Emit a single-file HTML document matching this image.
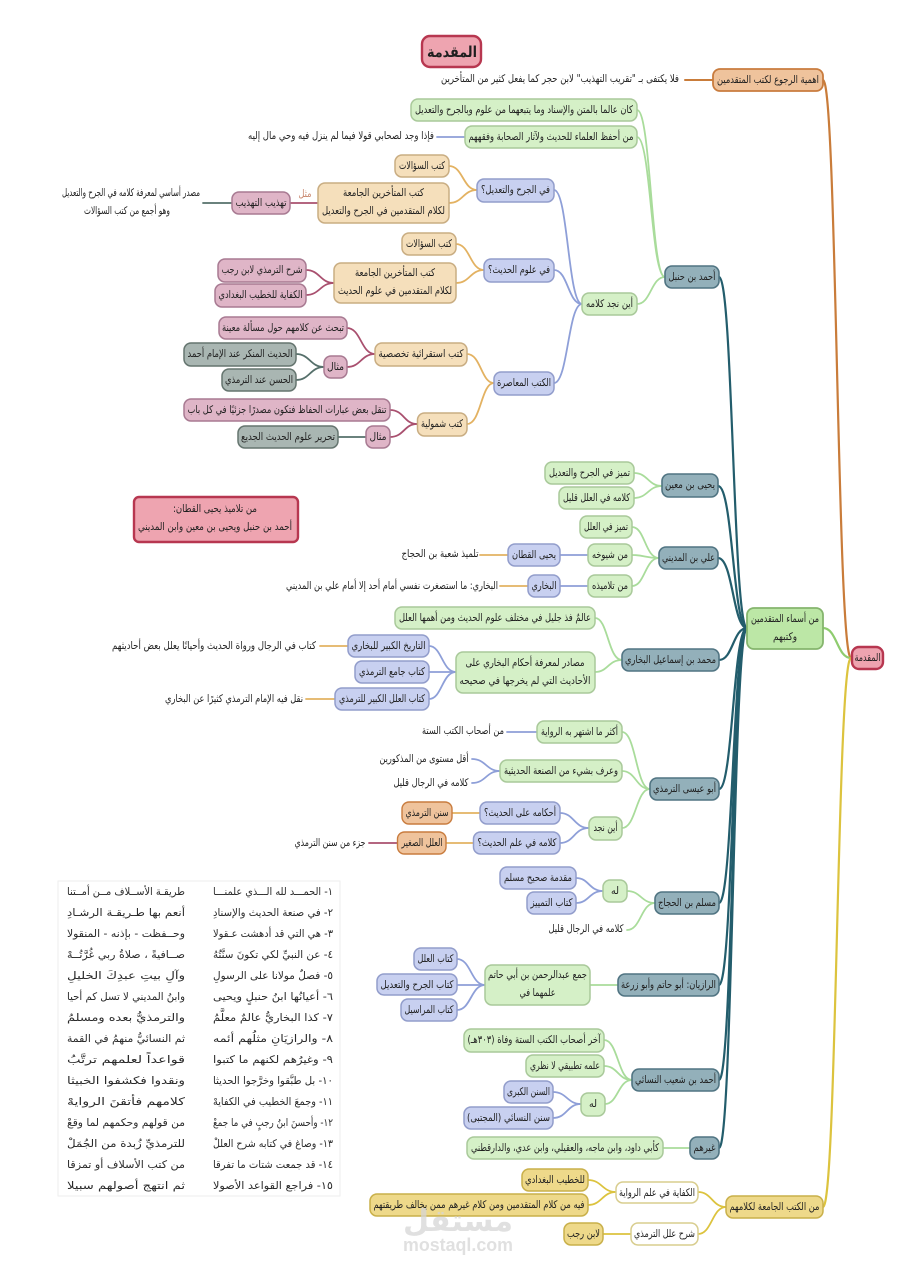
<!DOCTYPE html>
<html lang="ar"><head><meta charset="utf-8"><title>المقدمة</title>
<style>
html,body{margin:0;padding:0;background:#fff}
svg{display:block}
text{font-family:"DejaVu Sans","Liberation Sans",sans-serif;font-size:10.5px;fill:#1f1f1f;text-anchor:middle;direction:rtl}
path{fill:none;stroke-linecap:round}
rect{stroke-width:1.5}
.p text{font-size:10.5px;fill:#2a2a2a}
.g rect{fill:#d5f0c7;stroke:#a9c99a}.b rect{fill:#c8d0f0;stroke:#929dcb}.o rect{fill:#f5dfbb;stroke:#c9ad82}
.d rect{fill:#efc39c;stroke:#c97c3e;stroke-width:1.8}.m rect{fill:#dfb5c7;stroke:#a87a92}.y rect{fill:#a9b6b2;stroke:#65756f}
.t rect{fill:#93b0ba;stroke:#507482;stroke-width:1.6}.l rect{fill:#bce7a6;stroke:#85b56d;stroke-width:1.8}
.e rect{fill:#eed98a;stroke:#c9b04a;stroke-width:1.5}.w rect{fill:#fff;stroke:#d8cd8e}.r rect{fill:#eea4b0;stroke:#b73750;stroke-width:2.4}
</style></head><body>
<svg xmlns="http://www.w3.org/2000/svg" width="917" height="1280" viewBox="0 0 917 1280">
<rect width="917" height="1280" fill="#fff" style="stroke:none"/>

<!-- root connectors -->
<g stroke-width="2.2">
<path stroke="#c97c3a" d="M823 80C837 80 837 658 851 658"/>
<path stroke="#8fcc6f" d="M823 628C837 628 837 658 851 658"/>
<path stroke="#dcc33e" d="M823 1207C837 1207 837 658 851 658"/>
</g>
<path stroke="#c97c3a" stroke-width="2" d="M685 80H713"/>
<!-- teal -->
<g stroke="#235d6c" stroke-width="2.2">
<path d="M719 277C733 277 733 628 747 628"/>
<path d="M718 486C733 486 733 628 747 628"/>
<path d="M718 558C733 558 733 628 747 628"/>
<path d="M719 660C733 660 733 628 747 628"/>
<path d="M719 789C733 789 733 628 747 628"/>
<path d="M719 903C733 903 733 628 747 628"/>
<path d="M719 985C733 985 733 628 747 628"/>
<path d="M719 1080C733 1080 733 628 747 628"/>
<path d="M719 1148C733 1148 733 628 747 628"/>
</g>
<!-- light green -->
<g stroke="#a9dc9b" stroke-width="1.8">
<path d="M637 110C651 110 651 277 665 277"/>
<path d="M637 137C651 137 651 277 665 277"/>
<path d="M637 304C651 304 651 277 665 277"/>
<path d="M634 473C648 473 648 486 662 486"/>
<path d="M634 498C648 498 648 486 662 486"/>
<path d="M632 527C645 527 645 558 659 558"/>
<path d="M632 555C645 555 645 558 659 558"/>
<path d="M632 586C645 586 645 558 659 558"/>
<path d="M595 618C608 618 608 660 622 660"/>
<path d="M595 672C608 672 608 660 622 660"/>
<path d="M622 732C636 732 636 789 650 789"/>
<path d="M622 771C636 771 636 789 650 789"/>
<path d="M622 828C636 828 636 789 650 789"/>
<path d="M627 891C641 891 641 903 655 903"/>
<path d="M627 930C641 930 641 903 655 903"/>
<path d="M590 985H618"/>
<path d="M604 1040C618 1040 618 1080 632 1080"/>
<path d="M604 1066C618 1066 618 1080 632 1080"/>
<path d="M605 1104C618 1104 618 1080 632 1080"/>
<path d="M663 1148H690"/>
</g>
<!-- blue -->
<g stroke="#8e9fd8" stroke-width="1.8">
<path d="M437 137H465"/>
<path d="M554 190C568 190 568 304 582 304"/>
<path d="M554 270C568 270 568 304 582 304"/>
<path d="M554 383C568 383 568 304 582 304"/>
<path d="M560 555H588"/>
<path d="M560 586H588"/>
<path d="M429 646C442 646 442 672 456 672"/>
<path d="M429 672H456"/>
<path d="M429 699C442 699 442 672 456 672"/>
<path d="M507 732H537"/>
<path d="M472 759C486 759 486 771 500 771"/>
<path d="M472 783C486 783 486 771 500 771"/>
<path d="M560 813C574 813 574 828 589 828"/>
<path d="M560 843C574 843 574 828 589 828"/>
<path d="M576 878C589 878 589 891 603 891"/>
<path d="M576 903C589 903 589 891 603 891"/>
<path d="M457 959C471 959 471 985 485 985"/>
<path d="M457 985H485"/>
<path d="M457 1010C471 1010 471 985 485 985"/>
<path d="M553 1092C567 1092 567 1104 581 1104"/>
<path d="M553 1118C567 1118 567 1104 581 1104"/>
</g>
<!-- orange -->
<g stroke="#e3b262" stroke-width="1.8">
<path d="M449 166C463 166 463 190 477 190"/>
<path d="M449 203C463 203 463 190 477 190"/>
<path d="M456 244C470 244 470 270 484 270"/>
<path d="M456 283C470 283 470 270 484 270"/>
<path d="M467 354C481 354 481 383 494 383"/>
<path d="M467 424C481 424 481 383 494 383"/>
<path d="M480 555H508"/>
<path d="M500 586H528"/>
<path d="M320 646H348"/>
<path d="M306 699H335"/>
<path d="M452 813H480"/>
<path d="M446 843H473"/>
</g>
<!-- mauve -->
<g stroke="#a9506f" stroke-width="1.8">
<path d="M290 203H318"/>
<path d="M306 270C320 270 320 283 334 283"/>
<path d="M306 295C320 295 320 283 334 283"/>
<path d="M347 328C361 328 361 354 375 354"/>
<path d="M347 367C361 367 361 354 375 354"/>
<path d="M390 410C404 410 404 424 417 424"/>
<path d="M390 437C404 437 404 424 417 424"/>
<path d="M369 843H397"/>
</g>
<!-- grey -->
<g stroke="#56706b" stroke-width="1.8">
<path d="M203 203H232"/>
<path d="M296 354C310 354 310 367 324 367"/>
<path d="M296 380C310 380 310 367 324 367"/>
<path d="M338 437H366"/>
</g>
<!-- yellow -->
<g stroke="#dcc33e" stroke-width="1.8">
<path d="M698 1192C712 1192 712 1207 726 1207"/>
<path d="M698 1234C712 1234 712 1207 726 1207"/>
<path d="M588 1180C602 1180 602 1192 616 1192"/>
<path d="M588 1205C602 1205 602 1192 616 1192"/>
<path d="M603 1234H631"/>
</g>

<!-- title / root -->
<g class="r">
<rect x="422" y="36" width="59" height="31" rx="8"/>
<text x="452" y="57" style="font-size:15px;font-weight:bold" textLength="50" lengthAdjust="spacingAndGlyphs">المقدمة</text>
<rect x="852" y="647" width="31" height="22" rx="7"/>
<text x="867.5" y="661" textLength="26" lengthAdjust="spacingAndGlyphs">المقدمة</text>
<rect x="134" y="497" width="164" height="45" rx="5"/>
<text x="215" y="512" textLength="84" lengthAdjust="spacingAndGlyphs">من تلاميذ يحيى القطان:</text>
<text x="215" y="530" textLength="154" lengthAdjust="spacingAndGlyphs">أحمد بن حنبل ويحيى بن معين وابن المديني</text>
</g>

<g class="d">
<rect x="713" y="69" width="110" height="22" rx="7"/>
<text x="768" y="83" textLength="102" lengthAdjust="spacingAndGlyphs">اهمية الرجوع لكتب المتقدمين</text>
</g>
<g class="l">
<rect x="747" y="608" width="76" height="41" rx="7"/>
<text x="785" y="622" textLength="68" lengthAdjust="spacingAndGlyphs">من أسماء المتقدمين</text>
<text x="785" y="640" textLength="24" lengthAdjust="spacingAndGlyphs">وكتبهم</text>
</g>

<!-- plain text -->
<g>
<text x="560" y="82" textLength="238" lengthAdjust="spacingAndGlyphs">فلا يكتفى بـ "تقريب التهذيب" لابن حجر كما يفعل كثير من المتأخرين</text>
<text x="341" y="139" textLength="186" lengthAdjust="spacingAndGlyphs">فإذا وجد لصحابي قولا فيما لم ينزل فيه وحي مال إليه</text>
<text x="131" y="196" textLength="138" lengthAdjust="spacingAndGlyphs">مصدر أساسي لمعرفة كلامه في الجرح والتعديل</text>
<text x="127" y="214" textLength="86" lengthAdjust="spacingAndGlyphs">وهو أجمع من كتب السؤالات</text>
<text x="305" y="197" textLength="13" lengthAdjust="spacingAndGlyphs" style="fill:#c9876e">مثل</text>
<text x="440" y="557" textLength="77" lengthAdjust="spacingAndGlyphs">تلميذ شعبة بن الحجاج</text>
<text x="392" y="589" textLength="212" lengthAdjust="spacingAndGlyphs">البخاري: ما استصغرت نفسي أمام أحد إلا أمام علي بن المديني</text>
<text x="214" y="649" textLength="204" lengthAdjust="spacingAndGlyphs">كتاب في الرجال ورواة الحديث وأحيانًا يعلل بعض أحاديثهم</text>
<text x="234" y="702" textLength="138" lengthAdjust="spacingAndGlyphs">نقل فيه الإمام الترمذي كثيرًا عن البخاري</text>
<text x="463" y="734" textLength="82" lengthAdjust="spacingAndGlyphs">من أصحاب الكتب الستة</text>
<text x="424" y="762" textLength="89" lengthAdjust="spacingAndGlyphs">أقل مستوى من المذكورين</text>
<text x="431" y="786" textLength="75" lengthAdjust="spacingAndGlyphs">كلامه في الرجال قليل</text>
<text x="330" y="846" textLength="71" lengthAdjust="spacingAndGlyphs">جزء من سنن الترمذي</text>
<text x="586" y="932" textLength="75" lengthAdjust="spacingAndGlyphs">كلامه في الرجال قليل</text>
</g>

<!-- light green nodes -->
<g class="g">
<rect x="411" y="99" width="226" height="22" rx="7"/><text x="524" y="113" textLength="218" lengthAdjust="spacingAndGlyphs">كان عالما بالمتن والإسناد وما يتبعهما من علوم وبالجرح والتعديل</text>
<rect x="465" y="126" width="172" height="22" rx="7"/><text x="551" y="140" textLength="165" lengthAdjust="spacingAndGlyphs">من أحفظ العلماء للحديث ولآثار الصحابة وفقههم</text>
<rect x="582" y="293" width="55" height="22" rx="7"/><text x="609.5" y="307" textLength="47" lengthAdjust="spacingAndGlyphs">أين نجد كلامه</text>
<rect x="545" y="462" width="89" height="22" rx="7"/><text x="589.5" y="476" textLength="81" lengthAdjust="spacingAndGlyphs">تميز في الجرح والتعديل</text>
<rect x="559" y="487" width="75" height="22" rx="7"/><text x="596.5" y="501" textLength="67" lengthAdjust="spacingAndGlyphs">كلامه في العلل قليل</text>
<rect x="580" y="516" width="52" height="22" rx="7"/><text x="606" y="530" textLength="44" lengthAdjust="spacingAndGlyphs">تميز في العلل</text>
<rect x="588" y="544" width="44" height="22" rx="7"/><text x="610" y="558" textLength="36" lengthAdjust="spacingAndGlyphs">من شيوخه</text>
<rect x="588" y="575" width="44" height="22" rx="7"/><text x="610" y="589" textLength="36" lengthAdjust="spacingAndGlyphs">من تلاميذه</text>
<rect x="395" y="607" width="200" height="22" rx="7"/><text x="495" y="621" textLength="192" lengthAdjust="spacingAndGlyphs">عالمٌ فذ جليل في مختلف علوم الحديث ومن أهمها العلل</text>
<rect x="456" y="652" width="139" height="41" rx="7"/>
<text x="525" y="666" textLength="119" lengthAdjust="spacingAndGlyphs">مصادر لمعرفة أحكام البخاري على</text>
<text x="525" y="684" textLength="131" lengthAdjust="spacingAndGlyphs">الأحاديث التي لم يخرجها في صحيحه</text>
<rect x="537" y="721" width="85" height="22" rx="7"/><text x="579.5" y="735" textLength="77" lengthAdjust="spacingAndGlyphs">أكثر ما اشتهر به الرواية</text>
<rect x="500" y="760" width="122" height="22" rx="7"/><text x="561" y="774" textLength="114" lengthAdjust="spacingAndGlyphs">وعرف بشيء من الصنعة الحديثية</text>
<rect x="589" y="817" width="33" height="23" rx="7"/><text x="605.5" y="831" textLength="24" lengthAdjust="spacingAndGlyphs">أين نجد</text>
<rect x="603" y="880" width="24" height="22" rx="7"/><text x="615" y="894" textLength="8" lengthAdjust="spacingAndGlyphs">له</text>
<rect x="485" y="965" width="105" height="40" rx="7"/>
<text x="537.5" y="978" textLength="99" lengthAdjust="spacingAndGlyphs">جمع عبدالرحمن بن أبي حاتم</text>
<text x="537.5" y="996" textLength="36" lengthAdjust="spacingAndGlyphs">علمهما في</text>
<rect x="464" y="1029" width="140" height="23" rx="7"/><text x="534" y="1043" textLength="133" lengthAdjust="spacingAndGlyphs">آخر أصحاب الكتب الستة وفاة (٣٠٣هـ)</text>
<rect x="526" y="1055" width="78" height="22" rx="7"/><text x="565" y="1069" textLength="70" lengthAdjust="spacingAndGlyphs">علمه تطبيقي لا نظري</text>
<rect x="581" y="1093" width="24" height="23" rx="7"/><text x="593" y="1107" textLength="8" lengthAdjust="spacingAndGlyphs">له</text>
<rect x="467" y="1137" width="196" height="22" rx="7"/><text x="565" y="1151" textLength="188" lengthAdjust="spacingAndGlyphs">كأبي داود، وابن ماجه، والعقيلي، وابن عدي، والدارقطني</text>
</g>

<!-- blue nodes -->
<g class="b">
<rect x="477" y="179" width="77" height="23" rx="7"/><text x="515.5" y="193" textLength="69" lengthAdjust="spacingAndGlyphs">في الجرح والتعديل؟</text>
<rect x="484" y="259" width="70" height="23" rx="7"/><text x="519" y="273" textLength="62" lengthAdjust="spacingAndGlyphs">في علوم الحديث؟</text>
<rect x="494" y="372" width="60" height="23" rx="7"/><text x="524" y="386" textLength="54" lengthAdjust="spacingAndGlyphs">الكتب المعاصرة</text>
<rect x="508" y="544" width="52" height="22" rx="7"/><text x="534" y="558" textLength="44" lengthAdjust="spacingAndGlyphs">يحيى القطان</text>
<rect x="528" y="575" width="32" height="22" rx="7"/><text x="544" y="589" textLength="25" lengthAdjust="spacingAndGlyphs">البخاري</text>
<rect x="348" y="635" width="81" height="22" rx="7"/><text x="388.5" y="649" textLength="74" lengthAdjust="spacingAndGlyphs">التاريخ الكبير للبخاري</text>
<rect x="355" y="661" width="74" height="22" rx="7"/><text x="392" y="675" textLength="66" lengthAdjust="spacingAndGlyphs">كتاب جامع الترمذي</text>
<rect x="335" y="688" width="94" height="22" rx="7"/><text x="382" y="702" textLength="86" lengthAdjust="spacingAndGlyphs">كتاب العلل الكبير للترمذي</text>
<rect x="480" y="802" width="80" height="22" rx="7"/><text x="520" y="816" textLength="72" lengthAdjust="spacingAndGlyphs">أحكامه على الحديث؟</text>
<rect x="473.500" y="832" width="86.500" height="22" rx="7"/><text x="517" y="846" textLength="79" lengthAdjust="spacingAndGlyphs">كلامه في علم الحديث؟</text>
<rect x="500" y="867" width="76" height="22" rx="7"/><text x="538" y="881" textLength="68" lengthAdjust="spacingAndGlyphs">مقدمة صحيح مسلم</text>
<rect x="527" y="892" width="49" height="22" rx="7"/><text x="551.5" y="906" textLength="42" lengthAdjust="spacingAndGlyphs">كتاب التمييز</text>
<rect x="414" y="948" width="43" height="22" rx="7"/><text x="435.500" y="962" textLength="36" lengthAdjust="spacingAndGlyphs">كتاب العلل</text>
<rect x="377" y="974" width="80" height="21" rx="7"/><text x="417" y="988" textLength="73" lengthAdjust="spacingAndGlyphs">كتاب الجرح والتعديل</text>
<rect x="401" y="999" width="56" height="22" rx="7"/><text x="429" y="1013" textLength="49" lengthAdjust="spacingAndGlyphs">كتاب المراسيل</text>
<rect x="504" y="1081" width="49" height="22" rx="7"/><text x="528.500" y="1095" textLength="43" lengthAdjust="spacingAndGlyphs">السنن الكبرى</text>
<rect x="464" y="1107" width="89" height="22" rx="7"/><text x="508.500" y="1121" textLength="83" lengthAdjust="spacingAndGlyphs">سنن النسائي (المجتبى)</text>
</g>

<!-- orange nodes -->
<g class="o">
<rect x="395" y="155" width="54" height="22" rx="7"/><text x="422" y="169" textLength="46" lengthAdjust="spacingAndGlyphs">كتب السؤالات</text>
<rect x="318" y="183" width="131" height="40" rx="7"/>
<text x="383.500" y="196" textLength="81" lengthAdjust="spacingAndGlyphs">كتب المتأخرين الجامعة</text>
<text x="383.500" y="214" textLength="123" lengthAdjust="spacingAndGlyphs">لكلام المتقدمين في الجرح والتعديل</text>
<rect x="402" y="233" width="54" height="22" rx="7"/><text x="429" y="247" textLength="46" lengthAdjust="spacingAndGlyphs">كتب السؤالات</text>
<rect x="334" y="263" width="122" height="40" rx="7"/>
<text x="395" y="276" textLength="80" lengthAdjust="spacingAndGlyphs">كتب المتأخرين الجامعة</text>
<text x="395" y="294" textLength="114" lengthAdjust="spacingAndGlyphs">لكلام المتقدمين في علوم الحديث</text>
<rect x="375" y="343" width="92" height="23" rx="7"/><text x="421" y="357" textLength="85" lengthAdjust="spacingAndGlyphs">كتب استقرائية تخصصية</text>
<rect x="417.500" y="413" width="49.500" height="23" rx="7"/><text x="442" y="427" textLength="42" lengthAdjust="spacingAndGlyphs">كتب شمولية</text>
</g>
<g class="d">
<rect x="402" y="802" width="50" height="22" rx="7" style="stroke-width:1.4"/><text x="427" y="816" textLength="43" lengthAdjust="spacingAndGlyphs">سنن الترمذي</text>
<rect x="397.500" y="832" width="48.500" height="22" rx="7" style="stroke-width:1.4"/><text x="422" y="846" textLength="41" lengthAdjust="spacingAndGlyphs">العلل الصغير</text>
</g>

<!-- mauve nodes -->
<g class="m">
<rect x="232" y="192" width="58" height="22" rx="7"/><text x="261" y="206" textLength="51" lengthAdjust="spacingAndGlyphs">تهذيب التهذيب</text>
<rect x="218" y="259" width="88" height="23" rx="7"/><text x="262" y="273" textLength="81" lengthAdjust="spacingAndGlyphs">شرح الترمذي لابن رجب</text>
<rect x="215" y="284" width="91" height="23" rx="7"/><text x="260.500" y="298" textLength="84" lengthAdjust="spacingAndGlyphs">الكفاية للخطيب البغدادي</text>
<rect x="219" y="317" width="128" height="22" rx="7"/><text x="283" y="331" textLength="122" lengthAdjust="spacingAndGlyphs">تبحث عن كلامهم حول مسألة معينة</text>
<rect x="324" y="356" width="23" height="22" rx="7"/><text x="335.500" y="370" textLength="17" lengthAdjust="spacingAndGlyphs">مثال</text>
<rect x="184" y="399" width="206" height="22" rx="7"/><text x="287" y="413" textLength="199" lengthAdjust="spacingAndGlyphs">تنقل بعض عبارات الحفاظ فتكون مصدرًا جزئيًا في كل باب</text>
<rect x="366" y="426" width="24" height="22" rx="7"/><text x="378" y="440" textLength="17" lengthAdjust="spacingAndGlyphs">مثال</text>
</g>

<!-- grey nodes -->
<g class="y">
<rect x="184" y="343" width="112" height="23" rx="7"/><text x="240" y="357" textLength="105" lengthAdjust="spacingAndGlyphs">الحديث المنكر عند الإمام أحمد</text>
<rect x="222" y="369" width="74" height="22" rx="7"/><text x="259" y="383" textLength="68" lengthAdjust="spacingAndGlyphs">الحسن عند الترمذي</text>
<rect x="238" y="426" width="100" height="22" rx="7"/><text x="288" y="440" textLength="94" lengthAdjust="spacingAndGlyphs">تحرير علوم الحديث الجديع</text>
</g>

<!-- teal nodes -->
<g class="t">
<rect x="665" y="266" width="54" height="22" rx="7"/><text x="692" y="280" textLength="47" lengthAdjust="spacingAndGlyphs">أحمد بن حنبل</text>
<rect x="662" y="474" width="56" height="23" rx="7"/><text x="690" y="488" textLength="50" lengthAdjust="spacingAndGlyphs">يحيى بن معين</text>
<rect x="659" y="547" width="59" height="22" rx="7"/><text x="688.500" y="561" textLength="53" lengthAdjust="spacingAndGlyphs">علي بن المديني</text>
<rect x="622" y="649" width="97" height="22" rx="7"/><text x="670.500" y="663" textLength="91" lengthAdjust="spacingAndGlyphs">محمد بن إسماعيل البخاري</text>
<rect x="650" y="778" width="69" height="22" rx="7"/><text x="684.500" y="792" textLength="63" lengthAdjust="spacingAndGlyphs">أبو عيسى الترمذي</text>
<rect x="655" y="892" width="64" height="22" rx="7"/><text x="687" y="906" textLength="58" lengthAdjust="spacingAndGlyphs">مسلم بن الحجاج</text>
<rect x="618" y="974" width="101" height="22" rx="7"/><text x="668.500" y="988" textLength="95" lengthAdjust="spacingAndGlyphs">الرازيان: أبو حاتم وأبو زرعة</text>
<rect x="632" y="1069" width="87" height="22" rx="7"/><text x="675.500" y="1083" textLength="81" lengthAdjust="spacingAndGlyphs">أحمد بن شعيب النسائي</text>
<rect x="690" y="1137" width="29" height="22" rx="7"/><text x="704.500" y="1151" textLength="22" lengthAdjust="spacingAndGlyphs">غيرهم</text>
</g>

<!-- yellow nodes -->
<g class="e">
<rect x="726" y="1196" width="97" height="22" rx="7"/><text x="774.500" y="1210" textLength="90" lengthAdjust="spacingAndGlyphs">من الكتب الجامعة لكلامهم</text>
<rect x="522" y="1169" width="66" height="22" rx="7"/><text x="555" y="1183" textLength="60" lengthAdjust="spacingAndGlyphs">للخطيب البغدادي</text>
<rect x="370" y="1194" width="218" height="22" rx="7"/><text x="479" y="1208" textLength="211" lengthAdjust="spacingAndGlyphs">فيه من كلام المتقدمين ومن كلام غيرهم ممن يخالف طريقتهم</text>
<rect x="564" y="1223" width="39" height="22" rx="7"/><text x="583.500" y="1237" textLength="33" lengthAdjust="spacingAndGlyphs">لابن رجب</text>
</g>
<g class="w">
<rect x="616" y="1182" width="82" height="21" rx="7"/><text x="657" y="1196" textLength="76" lengthAdjust="spacingAndGlyphs">الكفاية في علم الرواية</text>
<rect x="631" y="1223" width="67" height="22" rx="7"/><text x="664.500" y="1237" textLength="61" lengthAdjust="spacingAndGlyphs">شرح علل الترمذي</text>
</g>

<!-- poem -->
<rect x="58" y="881" width="282" height="315" fill="#fff" stroke="#eeeeee" stroke-width="1" style="stroke-width:1"/>
<g class="p">
<text x="273" y="895" textLength="120" lengthAdjust="spacingAndGlyphs">١- الحمـــد لله الـــذي علمنـــا</text><text x="126" y="895" textLength="118" lengthAdjust="spacingAndGlyphs">طريقـة الأســلاف مــن أمــتنا</text>
<text x="273" y="916" textLength="120" lengthAdjust="spacingAndGlyphs">٢- في صنعة الحديث والإسنادِ</text><text x="126" y="916" textLength="118" lengthAdjust="spacingAndGlyphs">أنعم بها طـريقـة الرشـادِ</text>
<text x="273" y="937" textLength="120" lengthAdjust="spacingAndGlyphs">٣- هي التي قد أدهشت عـقولا</text><text x="126" y="937" textLength="118" lengthAdjust="spacingAndGlyphs">وحــفظت - بإذنه - المنقولا</text>
<text x="273" y="958" textLength="120" lengthAdjust="spacingAndGlyphs">٤- عن النبيِّ لكي تكونَ سنَّتُهُ</text><text x="126" y="958" textLength="118" lengthAdjust="spacingAndGlyphs">صــافيةً ، صلاةُ ربي غُرَّتُــهْ</text>
<text x="273" y="979" textLength="120" lengthAdjust="spacingAndGlyphs">٥- فصلٌ مولانا على الرسولِ</text><text x="126" y="979" textLength="118" lengthAdjust="spacingAndGlyphs">وآلِ بيتِ عبدِكَ الخليلِ</text>
<text x="273" y="1000" textLength="120" lengthAdjust="spacingAndGlyphs">٦- أعيانُها ابنُ حنبلٍ ويحيى</text><text x="126" y="1000" textLength="118" lengthAdjust="spacingAndGlyphs">وابنُ المديني لا تسل كم أحيا</text>
<text x="273" y="1021" textLength="120" lengthAdjust="spacingAndGlyphs">٧- كذا البخاريُّ عالمٌ معلَّمُ</text><text x="126" y="1021" textLength="118" lengthAdjust="spacingAndGlyphs">والترمذيُّ بعده ومسلمُ</text>
<text x="273" y="1042" textLength="120" lengthAdjust="spacingAndGlyphs">٨- والرازيَانِ مثلُهم أئمه</text><text x="126" y="1042" textLength="118" lengthAdjust="spacingAndGlyphs">ثم النسائيُّ منهمُ في القمة</text>
<text x="273" y="1063" textLength="120" lengthAdjust="spacingAndGlyphs">٩- وغيرُهم لكنهم ما كتبوا</text><text x="126" y="1063" textLength="118" lengthAdjust="spacingAndGlyphs">قواعداً لعلمهم ترتَّبُ</text>
<text x="273" y="1084" textLength="120" lengthAdjust="spacingAndGlyphs">١٠- بل طبَّقوا وخرَّجوا الحديثا</text><text x="126" y="1084" textLength="118" lengthAdjust="spacingAndGlyphs">ونقدوا فكشفوا الخبيثا</text>
<text x="273" y="1105" textLength="120" lengthAdjust="spacingAndGlyphs">١١- وجمعَ الخطيب في الكفايهْ</text><text x="126" y="1105" textLength="118" lengthAdjust="spacingAndGlyphs">كلامهم فأتقنَ الروايهْ</text>
<text x="273" y="1126" textLength="120" lengthAdjust="spacingAndGlyphs">١٢- وأحسنَ ابنُ رجبٍ في ما جمعْ</text><text x="126" y="1126" textLength="118" lengthAdjust="spacingAndGlyphs">من قولهم وحكمهم لما وقعْ</text>
<text x="273" y="1147" textLength="120" lengthAdjust="spacingAndGlyphs">١٣- وصاغ في كتابه شرح العللْ</text><text x="126" y="1147" textLength="118" lengthAdjust="spacingAndGlyphs">للترمذيِّ زُبدة من الجُمَلْ</text>
<text x="273" y="1168" textLength="120" lengthAdjust="spacingAndGlyphs">١٤- قد جمعت شتات ما تفرقا</text><text x="126" y="1168" textLength="118" lengthAdjust="spacingAndGlyphs">من كتب الأسلاف أو تمزقا</text>
<text x="273" y="1189" textLength="120" lengthAdjust="spacingAndGlyphs">١٥- فراجع القواعد الأصولا</text><text x="126" y="1189" textLength="118" lengthAdjust="spacingAndGlyphs">ثم انتهج أصولهم سبيلا</text>
</g>

<!-- watermark -->
<g opacity=".75">
<text x="458" y="1231" style="font-size:30px;font-weight:bold;fill:#d6d6d6" textLength="110" lengthAdjust="spacingAndGlyphs">مستقل</text>
<text x="458" y="1251" style="font-family:'Liberation Sans',sans-serif;font-size:18px;font-weight:bold;fill:#d6d6d6;direction:ltr" textLength="110" lengthAdjust="spacingAndGlyphs">mostaql.com</text>
</g>
</svg>
</body></html>
